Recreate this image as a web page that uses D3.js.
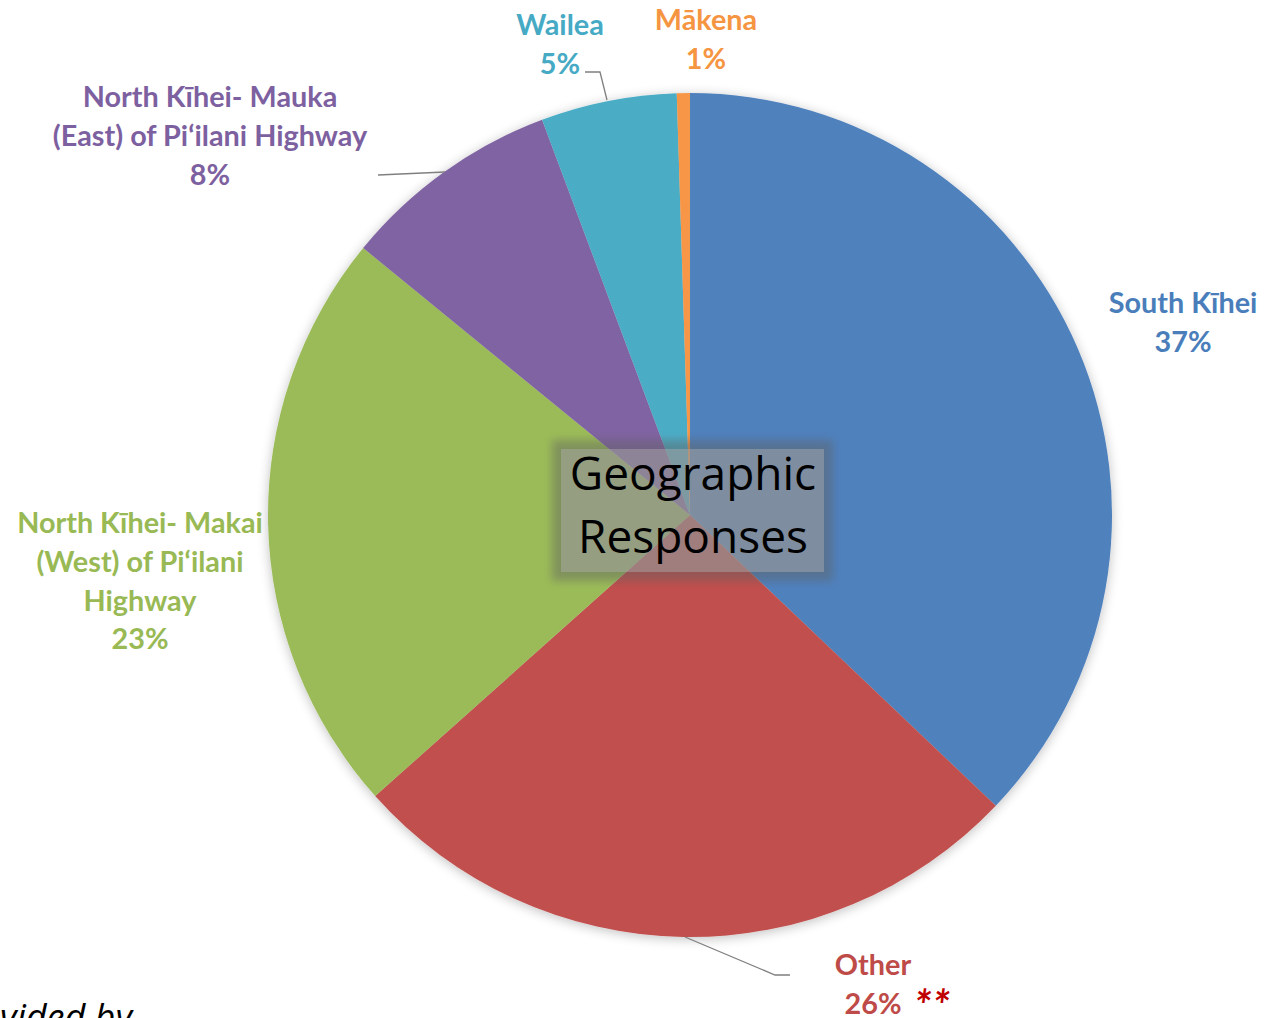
<!DOCTYPE html>
<html><head><meta charset="utf-8">
<script src="https://cdn.jsdelivr.net/npm/d3@7"></script>
<style>body{margin:0;background:#fff;overflow:hidden}</style>
</head><body>
<svg id="c" width="1279" height="1018"></svg>
<script>
const categories = ["South Kīhei","Other","North Kīhei- Makai (West) of Pi‘ilani Highway","North Kīhei- Mauka (East) of Pi‘ilani Highway","Wailea","Mākena"];
const values = [37.1, 26.3, 22.5, 8.4, 5.2, 0.5];
const percentLabels = ["37%","26%","23%","8%","5%","1%"];
const labelLines = [["South Kīhei"],["Other"],["North Kīhei- Makai","(West) of Pi‘ilani","Highway"],["North Kīhei- Mauka","(East) of Pi‘ilani Highway"],["Wailea"],["Mākena"]];
const colors = ["#4f81bd","#c0504d","#9bbb59","#8064a2","#4bacc6","#f79646"];
const labelColors = ["#4a7ebb","#be4b48","#98b954","#7d60a0","#46aac5","#f59542"];

const svg = d3.select("#c");
const cx = 690, cy = 515, R = 422;
const defs = svg.append("defs");
const sh = defs.append("filter").attr("id","sh").attr("x","-10%").attr("y","-10%").attr("width","120%").attr("height","120%");
sh.append("feGaussianBlur").attr("in","SourceAlpha").attr("stdDeviation",6);
sh.append("feOffset").attr("dx",0).attr("dy",2).attr("result","b");
sh.append("feComponentTransfer").append("feFuncA").attr("type","linear").attr("slope",0.25);
const m = sh.append("feMerge"); m.append("feMergeNode"); m.append("feMergeNode").attr("in","SourceGraphic");

const bs = defs.append("filter").attr("id","bs").attr("x","-20%").attr("y","-30%").attr("width","140%").attr("height","160%");
bs.append("feGaussianBlur").attr("stdDeviation",4);

const pie = d3.pie().sort(null).value(d=>d);
const arcs = pie(values);
const arc = d3.arc().innerRadius(0).outerRadius(R);
const g = svg.append("g").attr("transform",`translate(${cx},${cy})`);
g.append("g").attr("filter","url(#sh)").selectAll("path").data(arcs).join("path")
  .attr("d",arc).attr("fill",(d,i)=>colors[i]);

// leader lines
const lines = [
  [[607,100],[600,72],[585,72]],
  [[445,172],[378,175]],
  [[685,937],[775,975],[790,975]]
];
svg.append("g").selectAll("path").data(lines).join("path")
  .attr("d",d=>d3.line()(d)).attr("fill","none").attr("stroke","#7f7f7f").attr("stroke-width",1.3);

// labels
const pos = [[1183,313],[873,975],[140,533],[210,107],[560,35],[706,30]];
const lh = 38.8;
const font = "Lato, 'Open Sans', sans-serif";
arcs.forEach((a,i)=>{
  const t = svg.append("text").attr("x",pos[i][0]).attr("y",pos[i][1])
    .attr("text-anchor","middle").attr("font-family",font).attr("font-weight","bold")
    .attr("font-size",28.8).attr("fill",labelColors[i]);
  const ls = labelLines[i].concat([percentLabels[i]]);
  ls.forEach((s,j)=>t.append("tspan").attr("x",pos[i][0]).attr("y",pos[i][1]+j*lh).text(s));
});
svg.append("text").attr("x",914).attr("y",1022).attr("font-family",font).attr("font-weight","bold")
  .attr("font-style","italic").attr("font-size",44).attr("fill","#c00000").attr("letter-spacing",1).text("**");

// center box
svg.append("rect").attr("x",552).attr("y",440).attr("width",281).attr("height",141)
  .attr("fill","#606060").attr("opacity",0.45).attr("filter","url(#bs)");
svg.append("rect").attr("x",561).attr("y",449).attr("width",263).attr("height",123)
  .attr("fill","#b0b0b0").attr("opacity",0.45);
const ct = svg.append("text").attr("text-anchor","middle").attr("font-family","'Open Sans', sans-serif")
  .attr("font-size",46).attr("fill","#000");
ct.append("tspan").attr("x",693).attr("y",490).text("Geographic");
ct.append("tspan").attr("x",693).attr("y",553).text("Responses");

// cut-off footer
svg.append("text").attr("x",132).attr("y",1030).attr("text-anchor","end")
  .attr("font-family","'Open Sans', sans-serif").attr("font-style","italic").attr("font-size",36)
  .attr("fill","#000").text("Provided by");
</script>
</body></html>
